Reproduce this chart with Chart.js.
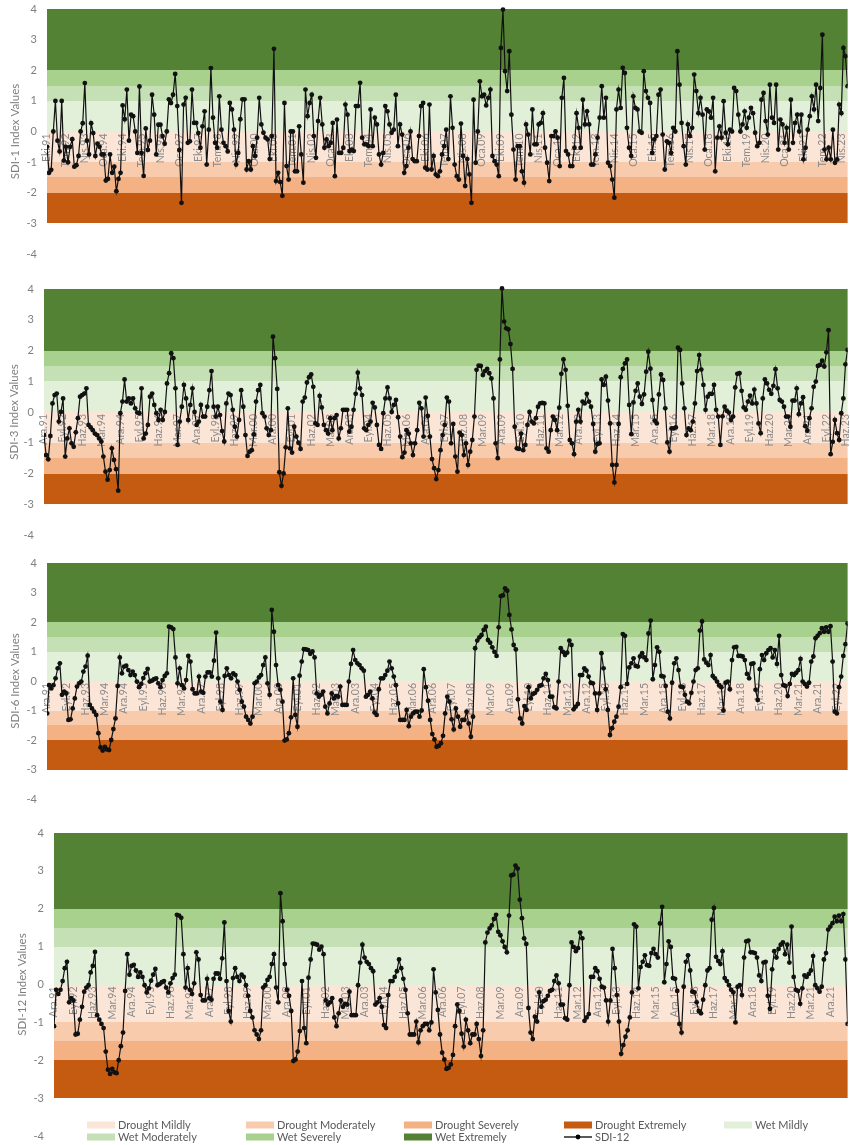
<!DOCTYPE html>
<html>
<head>
<meta charset="utf-8">
<title>SDI Index Values</title>
<script src="https://cdn.jsdelivr.net/npm/chart.js@4.4.1/dist/chart.umd.min.js"></script>
<style>
  html, body { margin: 0; padding: 0; background: #fff; overflow: hidden; }
  .panel { position: absolute; left: 0; width: 850px; }
</style>
</head>
<body>
<div class="panel" style="top:0;height:270px"><canvas id="sdi1"></canvas></div>
<div class="panel" style="top:270px;height:275px"><canvas id="sdi3"></canvas></div>
<div class="panel" style="top:550px;height:260px"><canvas id="sdi6"></canvas></div>
<div class="panel" style="top:815px;height:330px"><canvas id="sdi12"></canvas></div>
<script>
const monthNames = ["Oca", "Şub", "Mar", "Nis", "May", "Haz", "Tem", "Ağu", "Eyl", "Eki", "Kas", "Ara"];

// drought / wet classes drawn as horizontal bands behind the series
const bandNames = ["Drought Mildly", "Drought Moderately", "Drought Severely", "Drought Extremely",
  "Wet Mildly", "Wet Moderately", "Wet Severely", "Wet Extremely"];
const bandLow = [-1, -1.5, -2, -3, 0, 1, 1.5, 2];
const bandHigh = [0, -1, -1.5, -2, 1, 1.5, 2, 4];
const bandColors = ["#FBE5D6", "#F8CBAD", "#F4B183", "#C55A11", "#E2F0D9", "#C5E0B4", "#A9D18E", "#548235"];

// SDI-1, monthly from Eki.91
const sdi1Values = [
  -0.5, -1.35, -1.25, 0, 1.0, -0.3, -0.65, 1.0, -0.95, -0.5, -1.0, -0.5,
  -0.25, -1.15, -1.1, -0.8, 0, 0.27, 1.58, -0.3, -0.75, 0.27, -0.05, -0.8,
  -0.4, -0.5, -0.75, -0.75, -1.6, -1.55, -0.75, -1.35, -1.15, -1.95, -1.55, -1.35,
  0.85, 0.4, 1.37, -0.3, 0.55, 0.5, 0, -0.7, 1.47, -0.7, -1.45, 0.1,
  -0.6, -0.3, 1.2, 0.55, -0.75, 0.22, 0.22, -0.15, -0.4, 0, 1.05, 0.93,
  1.2, 1.88, 0.83, -0.6, -2.33, 0.88, 1.1, -0.37, -0.32, 1.37, 0.28, 0.28,
  -0.05, -0.53, 0.17, 0.66, -1.08, 0.06, 2.07, 0.45, -0.37, -0.53, 1.15, 0.06,
  -0.37, -0.48, -0.65, 0.93, 0.72, 0.06, -1.08, -0.7, 0.4, 1.05, 1.05, -1.24,
  -0.97, -1.24, -0.48, -0.8, -0.2, 1.1, 0.23, -0.04, -0.2, -0.26, -0.9, -0.15,
  2.7, -1.62, -1.35, -1.65, -2.1, 0.93, -1.13, -1.57, 0, 0, -1.3, -1.3,
  0.17, -0.75, -1.67, 1.37, 0.5, 0.93, 1.2, -0.15, -0.86, 0.34, 1.1, 0.23,
  -0.53, -0.26, -0.48, -0.37, 0.28, -1.46, 0.39, -0.7, -0.7, -0.53, 0.88, 0.55,
  -0.64, -0.59, -0.64, 0.83, 0.83, 1.59, -0.2, -0.42, -0.42, -0.48, 0.72, -0.48,
  0.45, 0.23, -0.75, -1.08, -0.7, 0.83, 0.66, 0.23, -0.04, 0.06, 1.2, -0.48,
  0.23, -0.1, -1.35, -1.13, -0.53, 0, -0.9, -0.97, -0.97, -0.15, 0.83, 0.93,
  -1.18, -1.24, 0.88, -1.24, -0.8, -1.4, -1.46, -1.3, -0.75, -0.48, 0.06, -0.9,
  1.15, 0.12, -1.08, -1.46, -1.57, 0.26, -0.8, -1.78, -0.9, -1.4, -2.33, 1.04,
  -1.02, 0, 1.64, 1.15, 1.2, 0.85, 1.1, 1.37, -0.8, -0.97, -1.08, -1.46,
  2.73, 3.98, 1.97, 1.32, 2.62, 0.55, -0.59, -1.57, -0.48, -0.48, -1.3, -1.67,
  0.23, -0.1, -0.75, 0.72, -0.42, -0.42, 0.23, 0.28, 0.6, -0.53, -1.02, -1.62,
  -0.15, -0.15, 0, -0.2, -1.13, 1.1, 1.75, -0.64, -0.75, -1.13, -1.13, -0.53,
  0.6, 0.12, -0.53, 1.04, 0.23, 0.66, 0.23, -1.08, -1.08, -0.75, -0.2, 0.45,
  1.48, 0.45, 1.1, -1.02, -1.13, -1.57, -2.16, 0.72, 1.37, 0.77, 2.08, 1.91,
  0.12, -0.53, -0.8, 1.15, 0.77, 0.72, 0, -0.04, 1.97, 1.32, 1.1, 0.93,
  -0.7, -0.26, -0.15, 1.2, 1.37, -0.1, -1.24, -0.32, -0.37, -0.7, 0.12, 0,
  2.62, 1.53, 0.28, -0.48, -1.08, 0.23, -0.15, 0.12, 1.86, 1.32, 0.6, 1.1,
  0.55, -0.59, 0.72, 0.66, 0.45, 1.1, -1.3, -0.2, 0.17, -0.2, 0.99, -0.04,
  -0.42, 0.06, 0, 1.42, 1.32, 0.55, 0, 0.23, 0.66, 0.12, 0.45, 0.77,
  0.6, -0.04, -0.48, -0.37, 1.04, 1.26, 0.34, -0.1, 1.53, 0.45, 0.28, 1.53,
  -0.59, 0.39, 0.23, -0.37, 0.12, -0.59, 1.04, -0.37, 0.28, 0.55, 0, 0.55,
  -0.91, -0.53, 0.06, 0.5, 1.15, 0.72, 1.53, 0.34, 1.42, 3.16, -0.59, -0.91,
  -0.53, -0.91, 0.06, -1.02, -0.91, 0.88, 0.6, 2.73, 2.46, 1.48
];

// SDI-3, monthly from Ara.91
const sdi3Values = [
  -0.75, -1.4, -1.54, -0.78, 0.28, 0.55, 0.6, -0.31, 0, 0.44, -1.45, -0.86,
  -0.53, -1.02, -1.13, -0.66, -0.2, 0.5, 0.55, 0.6, 0.77, -0.42, -0.5, -0.59,
  -0.7, -0.75, -0.86, -0.96, -1.45, -1.94, -2.2, -1.89, -1.18, -1.56, -1.86, -2.56,
  -0.04, 0.34, 1.06, 0.34, 0.44, 0.28, 0.44, 0.12, -0.02, -0.04, 0.77, -0.86,
  -0.7, -0.42, 0.5, 0.6, 0.23, -0.04, -0.26, 0.07, -0.26, 0, 0.93, 1.26,
  1.91, 1.75, 0.77, -1.07, -0.31, 0.17, 0.88, 0.44, -0.26, 0.23, 0.77, 0,
  -0.42, -0.31, 0.23, -0.15, -0.15, 0.17, 0.71, 1.33, 0.17, -0.15, 0.17, -0.1,
  -0.62, -0.96, 0.28, 0.6, 0.55, 0.07, -0.48, -0.8, -0.26, 0.71, 0.17, -0.75,
  -1.43, -1.29, -1.24, -0.73, 0.34, 0.71, 0.88, -0.04, -0.15, -0.53, -0.75, -0.59,
  2.45, 1.75, 0.75, -1.96, -2.4, -2.0, -1.15, 0.12, -1.18, -1.32, -0.48, -0.8,
  -1.0, -1.2, 0.34, 0.47, 0.96, 1.13, 1.22, 0.82, -0.37, -0.42, 0.52, 0.15,
  -0.42, -0.59, -0.7, -0.2, -0.59, -0.2, -0.1, -0.86, -0.53, 0.07, 0.07, 0.07,
  -0.64, -0.48, 0.07, 0.59, 1.28, 0.77, 0.55, -0.53, -0.59, -0.42, -0.31, 0.3,
  0.15, -0.42, -1.07, -1.2, -0.04, 0.44, 0.8, 0.44, 0, 0.23, 0.39, -0.17,
  -0.8, -1.47, -1.32, -0.59, -0.7, -1.02, -1.4, -1.02, -0.59, 0.3, 0.12, -0.8,
  0.47, -0.13, -0.8, -1.53, -1.83, -2.18, -1.89, -1.24, -0.75, -0.42, 0.47, 0.34,
  -1.02, -0.39, -1.45, -1.94, -0.67, -0.75, -1.4, -1.02, -1.72, -1.29, -0.91, -0.15,
  1.37, 1.51, 1.5, 1.2, 1.33, 1.4, 1.26, 1.09, 0.44, -1.02, -1.5, 1.71,
  4.02, 2.94, 2.72, 2.69, 2.21, 1.4, -0.48, -1.18, -1.2, -0.7, -1.24, -1.07,
  -0.42, 0, -0.31, -0.37, -0.2, 0.17, 0.28, 0.3, 0.28, -1.18, -1.29, -0.59,
  -0.15, -0.26, -0.59, 0.14, 1.24, 1.71, 1.37, 0.2, -0.91, -1.02, -1.37, -0.31,
  0.07, -0.31, 0.34, 0.28, 0.59, 0.34, 0.17, -0.39, -1.29, -1.04, -1.02, 1.06,
  0.88, 1.15, 0.37, -0.37, -1.72, -2.29, -1.72, -0.39, 1.13, 1.4, 1.58, 1.71,
  0.23, -0.72, 0.31, 0.69, 0.93, 0.5, 0.26, 0.57, 1.31, 1.96, 1.41, 0.39,
  -0.28, -0.37, 0.57, 1.22, 1.04, 0.12, -0.99, -1.29, -0.53, -0.53, -0.5, 2.09,
  2.02, 0.93, 0.12, -0.75, -0.53, -0.59, -0.31, 0.28, 1.33, 1.85, 1.38, 0.88,
  0.07, 0.5, 0.59, 0.59, 0.88, 0.07, -0.15, -1.07, -0.14, 0.17, 0.04, -0.02,
  -0.26, -0.15, 0.8, 1.24, 1.26, 0.69, 0.15, 0.07, 0.34, 0.53, 0.28, 0.73,
  0.28, -0.37, -0.69, 0.44, 1.06, 0.93, 0.72, 0.59, 0.85, 1.39, 0.77, 0.39,
  0.34, 0.17, -0.15, -0.15, -0.48, 0.37, 0.37, 0.77, -0.07, 0.28, 0.48, -0.46,
  -0.61, -0.2, 0.12, 0.82, 0.99, 1.5, 1.53, 1.67, 1.48, 1.94, 2.66, -1.37,
  -0.97, -0.26, -0.69, -0.91, -0.04, 0.44, 1.55, 2.02
];

// SDI-6, monthly from Ara.91
const sdi6Values = [
  -1.1, -0.14, -0.25, -0.14, 0.09, 0.43, 0.6, -0.47, -0.36, -0.42, -1.32, -1.3,
  -0.93, -0.59, -0.19, -0.08, -0.02, 0.32, 0.49, 0.86, -0.81, -0.93, -1.04, -1.15,
  -1.77, -2.25, -2.36, -2.23, -2.32, -2.34, -2.0, -1.63, -1.27, -0.17, 0.8, 0.26,
  0.49, 0.52, 0.37, 0.2, 0.32, 0.2, -0.02, -0.21, -0.1, 0.1, 0.26, 0.41,
  -0.02, 0.01, 0.06, 0.09, -0.08, -0.21, 0.03, 0.17, 0.26, 1.84, 1.82, 1.76,
  0.8, -0.08, 0.43, -0.14, -0.25, 0.03, 0.85, 0.66, -0.28, -0.42, -0.42, 0.15,
  -0.36, -0.4, 0.15, 0.29, 0.29, 0.15, 0.69, 1.64, 0.09, -0.7, -0.98, 0.17,
  0.43, 0.2, 0.09, 0.26, 0.2, -0.02, -0.3, -0.7, -0.87, -1.21, -1.32, -1.44,
  -1.21, -0.08, -0.02, 0.12, 0.2, 0.54, 0.8, -0.08, -0.47, 2.41, 1.67, 0.54,
  -0.14, -0.3, -0.7, -2.02, -1.98, -1.77, -1.23, 0.09, -1.15, -1.55, 0.18, 0.66,
  1.08, 1.07, 1.05, 0.92, 1.0, 0.8, -0.42, -0.53, -0.47, -0.36, -0.87, -1.1,
  -0.76, -0.42, -0.59, -0.51, -0.53, -0.19, -0.81, -0.81, -0.81, -0.02, 0.58, 1.05,
  0.71, 0.6, 0.54, 0.43, 0.35, -0.53, -0.47, -0.36, -0.59, -1.07, -1.15, -0.28,
  0.09, 0.09, 0.2, 0.35, 0.66, 0.43, 0.15, -0.14, -0.76, -1.32, -1.32, -1.32,
  -0.98, -1.53, -1.21, -1.1, -1.04, -1.04, -1.21, -1.0, 0.4, -0.21, -0.67, -1.32,
  -1.8, -1.98, -2.23, -2.2, -2.11, -1.86, -1.1, -0.53, -0.7, -1.3, -1.64, -0.93,
  -1.21, -1.55, -1.32, -1.32, -1.04, -1.44, -1.89, -1.21, 1.11, 1.37, 1.48, 1.56,
  1.73, 1.84, 1.39, 1.3, 1.14, 0.99, 0.85, 1.82, 2.88, 2.9, 3.14, 3.06,
  2.24, 1.75, 1.22, 1.07, -0.62, -1.27, -1.44, -0.85, -0.98, -0.21, -0.59, -0.44,
  -0.4, -0.3, -0.17, -0.14, 0.09, 0.24, 0.03, -0.53, -0.53, -0.89, -0.93, -0.02,
  1.11, 0.99, 0.88, 0.96, 1.37, 1.22, -0.96, -0.87, -0.78, 0.2, 0.2, 0.43,
  0.35, 0.15, -0.06, -0.08, -0.42, -0.98, -0.42, 0.94, 0.43, -0.28, -0.98, -1.83,
  -1.6, -1.38, -1.21, -0.87, -0.21, 1.59, 1.53, -0.1, 0.46, 0.6, 0.77, 0.51,
  0.49, 0.83, 0.94, 0.8, 0.71, 1.61, 2.05, 0.06, 0.54, 1.14, 0.99, 0.17,
  0.15, -0.17, -1.04, -1.27, -0.06, 0.6, 0.77, 0.37, -0.19, -0.21, -0.47, -0.7,
  -0.76, -0.4, -0.02, 0.37, 0.43, 1.71, 2.02, 0.73, 0.62, 0.54, 0.88, 0.17,
  0.09, -0.02, -0.14, -0.21, -1.0, -0.06, -0.02, -0.28, 0.71, 1.14, 1.16, 0.85,
  0.85, 0.83, 0.71, 0.24, 0.09, 0.58, 0.6, -0.3, -0.64, 0.4, 0.88, 0.71,
  0.94, 1.05, 1.11, 0.8, 1.05, 0.58, 1.53, 0.2, -0.14, -0.17, -0.51, -0.1,
  0.24, 0.2, 0.28, 0.37, 0.75, -0.02, -0.1, -0.19, -0.06, 0.66, 0.83, 1.45,
  1.53, 1.62, 1.79, 1.67, 1.82, 1.67, 1.86, 0.66, -1.04, -1.1, -0.21, 0.15,
  0.85, 1.25, 1.95
];

// the SDI-12 panel of the figure shows the same curve as SDI-6, point for point
const sdi12Values = sdi6Values;

function monthLabels(startMonth, startYear, count) {
  const out = [];
  let m = startMonth, y = startYear;
  for (let i = 0; i < count; i++) {
    out.push(monthNames[m] + "." + String(y % 100).padStart(2, "0"));
    m++;
    if (m === 12) { m = 0; y++; }
  }
  return out;
}

const sdi1Labels = monthLabels(9, 1991, sdi1Values.length);
const sdi3Labels = monthLabels(11, 1991, sdi3Values.length);
const sdi6Labels = monthLabels(11, 1991, sdi6Values.length);
const sdi12Labels = monthLabels(11, 1991, sdi12Values.length);

Chart.defaults.font.family = "Lato, 'Liberation Sans', sans-serif";
Chart.defaults.color = "#7f7f7f";

const bandPlugin = {
  id: "bands",
  beforeDraw(chart) {
    const { ctx, chartArea: a, scales: { y } } = chart;
    ctx.save();
    for (let i = 0; i < bandNames.length; i++) {
      const top = Math.round(y.getPixelForValue(bandHigh[i]));
      const bottom = Math.round(y.getPixelForValue(bandLow[i]));
      ctx.fillStyle = bandColors[i];
      ctx.fillRect(a.left, top, a.right - a.left, bottom - top);
    }
    ctx.restore();
  }
};

// legend laid out in fixed columns, two rows, under the last panel
const legendPlugin = {
  id: "sdiLegend",
  afterDraw(chart) {
    const ctx = chart.ctx;
    const cols = [87, 246, 404, 564, 724];
    const rows = [310, 322];
    const names = bandNames.concat([chart.data.datasets[0].label]);
    ctx.save();
    ctx.font = "11px Lato, 'Liberation Sans', sans-serif";
    ctx.textBaseline = "middle";
    names.forEach((name, k) => {
      const x = cols[k % 5], y = rows[Math.floor(k / 5)];
      if (k < bandNames.length) {
        ctx.fillStyle = bandColors[k];
        ctx.fillRect(x, y - 3.5, 28, 7);
      } else {
        ctx.strokeStyle = "#000";
        ctx.lineWidth = 1.3;
        ctx.beginPath();
        ctx.moveTo(x, y);
        ctx.lineTo(x + 28, y);
        ctx.stroke();
        ctx.fillStyle = "#000";
        ctx.beginPath();
        ctx.arc(x + 14, y, 2.4, 0, Math.PI * 2);
        ctx.fill();
      }
      ctx.fillStyle = "#595959";
      ctx.fillText(name, x + 31, y);
    });
    ctx.restore();
  }
};

function makeChart(id, name, labels, values, o) {
  return new Chart(document.getElementById(id), {
    type: "line",
    data: {
      labels: labels,
      datasets: [{
        label: name,
        data: values,
        borderColor: "#111",
        borderWidth: 1.2,
        pointRadius: 2.4,
        pointBorderWidth: 0,
        pointBackgroundColor: "#111",
        pointHoverRadius: 0,
        tension: 0,
        clip: { left: 0, right: 0, top: 5, bottom: 5 }
      }]
    },
    options: {
      responsive: true,
      maintainAspectRatio: false,
      animation: false,
      events: [],
      layout: { padding: { top: o.top, bottom: o.bottom, left: 0, right: 0 } },
      plugins: { legend: { display: false }, tooltip: { enabled: false } },
      scales: {
        x: {
          position: { y: 0 },
          max: o.xMax,
          grid: { display: false, drawTicks: false },
          border: { display: false },
          ticks: {
            autoSkip: false,
            minRotation: 90,
            maxRotation: 90,
            padding: 2,
            color: "#8a8a8a",
            font: { size: 10.5 },
            callback: function (value) {
              return value % 9 === 0 ? this.getLabelForValue(value) : "";
            }
          },
          // the axis sits inside the plot, so it should not shrink the plot sideways
          afterFit: function (scale) { scale.paddingLeft = 0; scale.paddingRight = 0; }
        },
        y: {
          min: -4,
          max: 4,
          grid: { display: false, drawTicks: false },
          border: { display: false },
          ticks: { stepSize: 1, padding: 10, color: "#7f7f7f", font: { size: 11 } },
          title: {
            display: true,
            text: name + " Index Values",
            color: "#7f7f7f",
            font: { size: 11.5 },
            padding: { top: o.titlePad, bottom: 0 }
          },
          afterFit: function (scale) {
            scale.width = o.left;
            scale.paddingTop = 0;
            scale.paddingBottom = 0;
          }
        }
      }
    },
    plugins: o.legend ? [bandPlugin, legendPlugin] : [bandPlugin]
  });
}

makeChart("sdi1", "SDI-1", sdi1Labels, sdi1Values, { left: 47, top: 9, bottom: 16, titlePad: 8 });
makeChart("sdi3", "SDI-3", sdi3Labels, sdi3Values, { left: 44, top: 19, bottom: 10, titlePad: 7 });
makeChart("sdi6", "SDI-6", sdi6Labels, sdi6Values, { left: 47, top: 13, bottom: 11, titlePad: 8 });
makeChart("sdi12", "SDI-12", sdi12Labels, sdi12Values, { left: 54, top: 18, bottom: 9, titlePad: 15, xMax: 368, legend: true });
</script>
</body>
</html>
